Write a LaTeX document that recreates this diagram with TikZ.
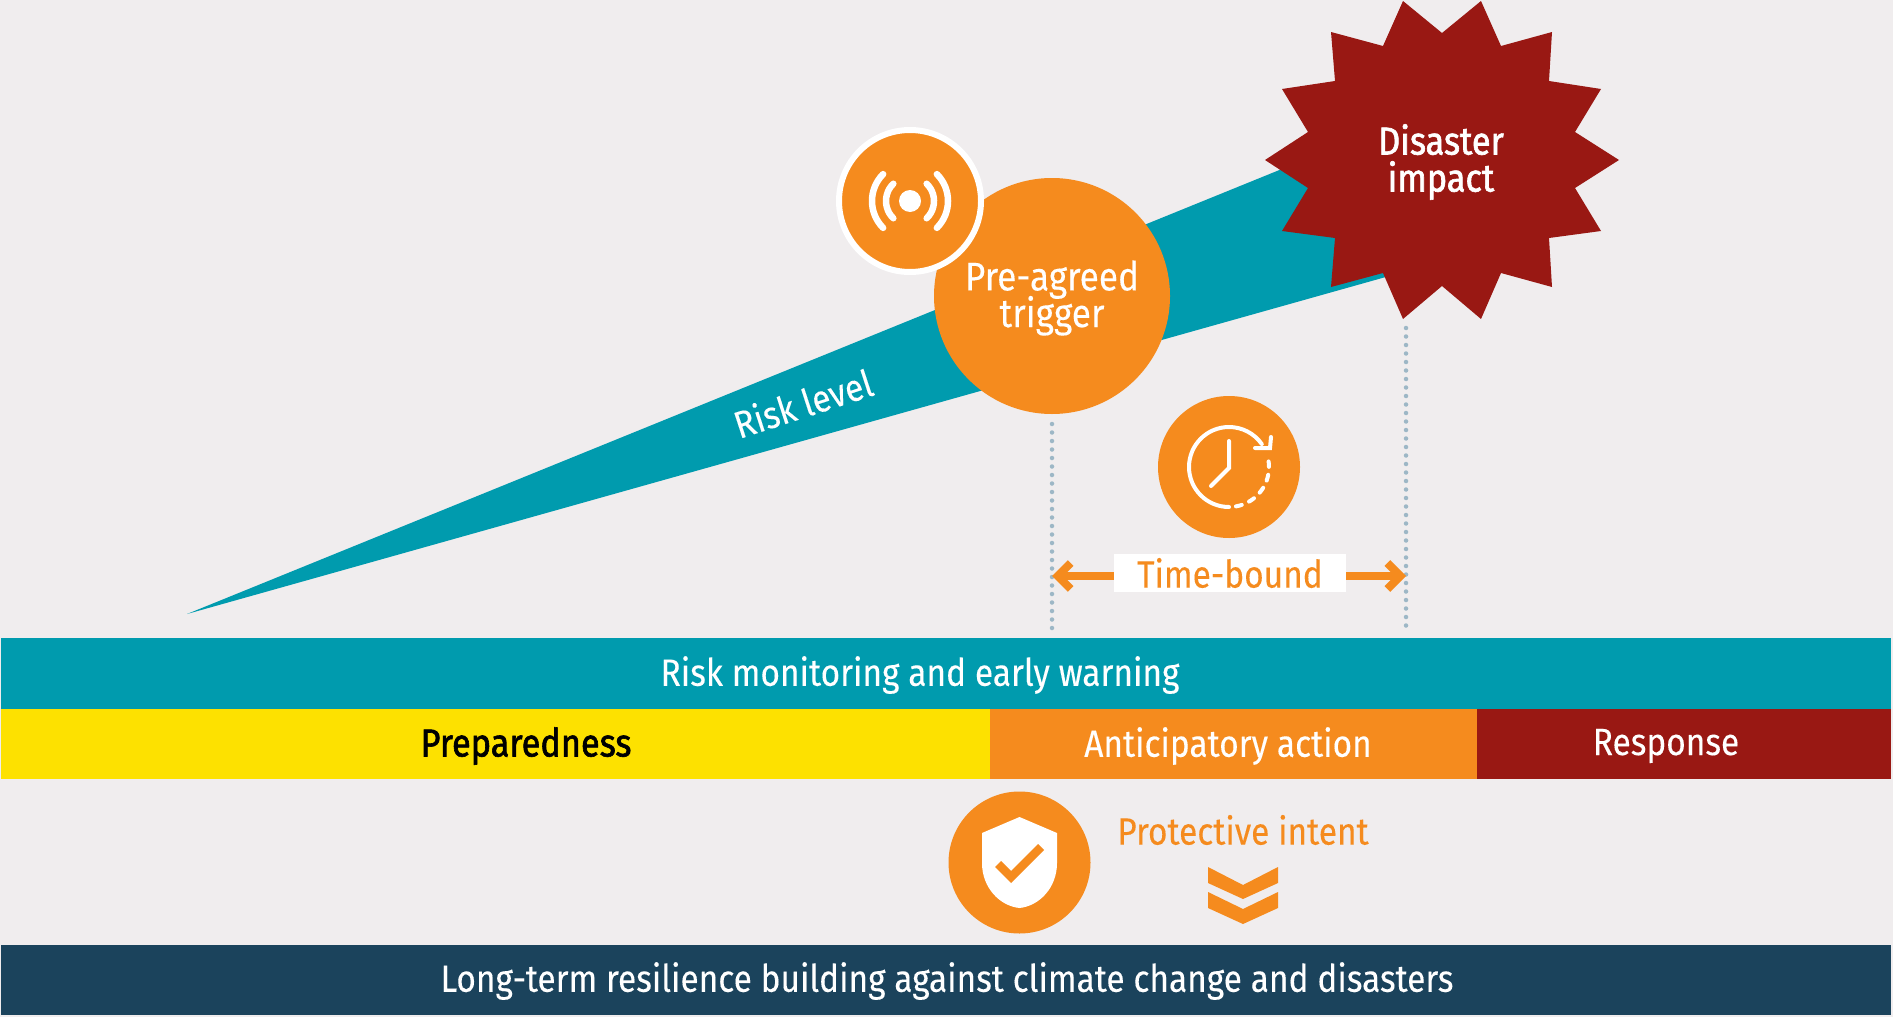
\documentclass[tikz,border=0pt]{standalone}
\usepackage{fontspec}
\setmainfont[FakeStretch=0.88, FakeBold=0.15]{Fira Sans}
\newfontface\heavyface[FakeStretch=0.88, FakeBold=1.6]{Fira Sans}
\usetikzlibrary{arrows.meta}
\definecolor{paper}{HTML}{F0EDEE}
\definecolor{riskteal}{HTML}{009BAE}
\definecolor{actorange}{HTML}{F58B1E}
\definecolor{impactred}{HTML}{991813}
\definecolor{prepyellow}{HTML}{FDE100}
\definecolor{resnavy}{HTML}{1B435C}
\definecolor{guideblue}{HTML}{9DB7C6}
\begin{document}
\begin{tikzpicture}[
  x=1pt, y=-1pt,
  bar/.style={fill=#1, draw=none},
  barlabel/.style={text=white, font=\fontsize{38}{40}\selectfont},
  disc/.style={circle, fill=actorange, inner sep=0pt, minimum size=142pt},
  bigtext/.style={text=white, align=center, font=\fontsize{40}{37}\selectfont},
  orangelabel/.style={text=actorange, font=\fontsize{38}{40}\selectfont},
  guide/.style={guideblue, line width=4.5pt, line cap=round, dash pattern=on 0pt off 8.5pt},
  timearrow/.style={actorange, line width=8pt, -{Straight Barb[length=13pt, width=26pt, line width=8pt]}},
  iconline/.style={white, line width=4pt, line cap=round},
  signal/.style={white, line width=6.5pt, line cap=round}
]
  \useasboundingbox (0,0) rectangle (1893,1017);
  \fill[paper] (0,0) rectangle (1893,1017);

  \fill[riskteal] (187,614) -- (1400,121) -- (1400,273) -- cycle;
  \node[barlabel] (risklevel) [rotate=18] at (803,403) {Risk level};

  \fill[bar=riskteal] (1,638) rectangle (1891,709);
  \fill[bar=prepyellow] (1,709) rectangle (990,779);
  \fill[bar=actorange] (990,709) rectangle (1477,779);
  \fill[bar=impactred] (1477,709) rectangle (1891,779);
  \fill[bar=resnavy] (1,945) rectangle (1891,1015);
  \node[barlabel] (monitoring) at (920,675) {Risk monitoring and early warning};
  \node[barlabel, text=black, font=\fontsize{39}{40}\heavyface] (preparedness) at (526,746) {Preparedness};
  \node[barlabel] (anticipatory) at (1228,746) {Anticipatory action};
  \node[barlabel] (response) at (1666,746) {Response};
  \node[barlabel] (resilience) at (947,981) {Long-term resilience building against climate change and disasters};

  \fill[impactred] (1403,1) -- (1442,33) -- (1481,1) -- (1501,46) -- (1552,32) -- (1549,81)
    -- (1601,89) -- (1575,132) -- (1619,160) -- (1575,188) -- (1601,231) -- (1549,238)
    -- (1552,287) -- (1501,273) -- (1481,319) -- (1442,286) -- (1403,319) -- (1383,273)
    -- (1331,287) -- (1335,238) -- (1282,231) -- (1308,188) -- (1265,160) -- (1308,132)
    -- (1282,89) -- (1335,81) -- (1331,32) -- (1383,46) -- cycle;
  \node[bigtext, font=\fontsize{39}{37}\heavyface] (disaster) at (1441,162) {Disaster\\impact};

  \node[disc, minimum size=236pt] (trigger) at (1052,296) {};
  \node[bigtext] (triggerlabel) at (1052,298) {Pre-agreed\\[-4pt]trigger};
  \node[disc, minimum size=142pt, draw=white, line width=6pt] (signal) at (910,201) {};
  \node[circle, fill=white, inner sep=0pt, minimum size=22pt] (signaldot) at (signal.center) {};
  \draw[signal] ([shift={(135:38pt)}]signal.center) arc[start angle=135, end angle=225, radius=38pt];
  \draw[signal] ([shift={(134:24pt)}]signal.center) arc[start angle=134, end angle=226, radius=24pt];
  \draw[signal] ([shift={(45:38pt)}]signal.center) arc[start angle=45, end angle=-45, radius=38pt];
  \draw[signal] ([shift={(46:24pt)}]signal.center) arc[start angle=46, end angle=-46, radius=24pt];

  \coordinate (guideAtop) at (1052,424);
  \coordinate (guideAend) at (1052,629);
  \coordinate (guideBtop) at (1406,328);
  \coordinate (guideBend) at (1406,629);
  \draw[guide] (guideAtop) -- (guideAend);
  \draw[guide] (guideBtop) -- (guideBend);

  \node[disc] (clock) at (1229,467) {};
  \draw[iconline] ([shift={(270:40pt)}]clock.center) arc[start angle=-90, end angle=-325, radius=40pt];
  \draw[iconline, dash pattern=on 6pt off 8pt] ([shift={(-80:40pt)}]clock.center) arc[start angle=-80, end angle=8, radius=40pt];
  \draw[iconline] (1229,441) -- (1229,468) -- (1211,486);
  \draw[iconline] (1255,448) -- (1270,448) -- (1271,437);

  \coordinate (timeleft) at (1052,576);
  \coordinate (timeright) at (1406,576);
  \node[fill=white, minimum width=232pt, minimum height=38pt, inner sep=0pt, orangelabel] (timebound) at (1230,573) {Time-bound};
  \draw[timearrow] (timebound.west |- timeleft) -- (timeleft);
  \draw[timearrow] (timebound.east |- timeright) -- (timeright);

  \node[disc] (shield) at (1019.5,862.5) {};
  \fill[white] (1019.5,817) -- (982,833) -- (982,863) .. controls (982,888) and (1000,906) .. (1019.5,908)
    .. controls (1039,906) and (1057,888) .. (1057,863) -- (1057,833) -- cycle;
  \fill[actorange] (995,867) -- (1011,883) -- (1044,850) -- (1038,844) -- (1011,871) -- (1001,861) -- cycle;

  \node[orangelabel] (intent) at (1243,830) {Protective intent};
  \fill[actorange] (1208,867) -- (1243,885) -- (1278,867) -- (1278,883) -- (1243,899) -- (1208,883) -- cycle;
  \fill[actorange] (1208,892) -- (1243,909) -- (1278,892) -- (1278,908) -- (1243,924) -- (1208,908) -- cycle;
\end{tikzpicture}
\end{document}
